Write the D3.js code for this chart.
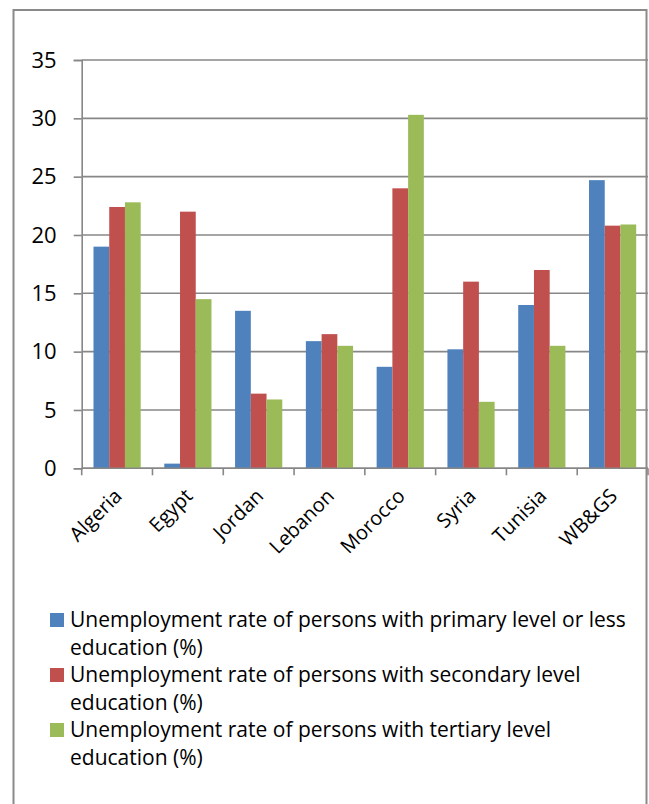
<!DOCTYPE html>
<html>
<head>
<meta charset="utf-8">
<script src="https://cdn.jsdelivr.net/npm/d3@7"></script>
<style>
  body { margin: 0; background: #fff; }
  svg { display: block; }
  text { font-family: "Open Sans", Lato, sans-serif; fill: #000; }
</style>
</head>
<body>
<div id="chart"></div>
<script>
const countries = ["Algeria", "Egypt", "Jordan", "Lebanon", "Morocco", "Syria", "Tunisia", "WB&GS"];
const primary = [19.0, 0.4, 13.5, 10.9, 8.7, 10.2, 14.0, 24.7];
const secondary = [22.4, 22.0, 6.4, 11.5, 24.0, 16.0, 17.0, 20.8];
const tertiary = [22.8, 14.5, 5.9, 10.5, 30.3, 5.7, 10.5, 20.9];
const seriesNames = [
  ["Unemployment rate of persons with primary level or less", "education (%)"],
  ["Unemployment rate of persons with secondary level", "education (%)"],
  ["Unemployment rate of persons with tertiary level", "education (%)"],
];
const colors = ["#4F81BD", "#C0504D", "#9BBB59"];
const yTicks = [0, 5, 10, 15, 20, 25, 30, 35];

const width = 649, height = 804;
const plot = { left: 81.7, right: 648, top: 60, bottom: 468.3 };
const gridColor = "#878787";

const series = [primary, secondary, tertiary];

const svg = d3.select("#chart").append("svg")
  .attr("width", width)
  .attr("height", height);

const y = d3.scaleLinear().domain([0, 35]).range([plot.bottom, plot.top]);
const x0 = d3.scaleBand().domain(countries).range([plot.left, plot.right]);
const x1 = d3.scaleBand().domain([0, 1, 2]).range([0, x0.bandwidth()])
  .paddingInner(0).paddingOuter(0.75);

// gridlines
svg.append("g")
  .selectAll("line")
  .data(yTicks)
  .join("line")
  .attr("x1", plot.left)
  .attr("x2", plot.right)
  .attr("y1", d => y(d))
  .attr("y2", d => y(d))
  .attr("stroke", gridColor)
  .attr("stroke-width", 1.6);

// bars
const groups = svg.append("g")
  .selectAll("g")
  .data(countries)
  .join("g")
  .attr("transform", d => `translate(${x0(d)},0)`);

groups.selectAll("rect")
  .data((d, i) => series.map((s, k) => ({ k, v: s[i] })))
  .join("rect")
  .attr("x", d => x1(d.k))
  .attr("width", x1.bandwidth())
  .attr("y", d => y(d.v))
  .attr("height", d => y(0) - y(d.v))
  .attr("fill", d => colors[d.k]);

// y axis
const yAxis = svg.append("g")
  .attr("transform", `translate(${plot.left},0)`)
  .call(d3.axisLeft(y).tickValues(yTicks).tickSize(8).tickPadding(17));
yAxis.select(".domain").attr("stroke", gridColor).attr("stroke-width", 1.6);
yAxis.selectAll(".tick line").attr("stroke", gridColor).attr("stroke-width", 1.6);
yAxis.selectAll("text").attr("font-size", 22).attr("font-family", "Open Sans");

// x axis baseline and boundary ticks
svg.append("line")
  .attr("x1", plot.left).attr("x2", plot.right)
  .attr("y1", y(0)).attr("y2", y(0))
  .attr("stroke", gridColor).attr("stroke-width", 1.6);

const bounds = countries.map(c => x0(c)).concat([x0.range()[1]]);
svg.append("g")
  .selectAll("line")
  .data(bounds)
  .join("line")
  .attr("x1", d => d).attr("x2", d => d)
  .attr("y1", y(0)).attr("y2", y(0) + 7)
  .attr("stroke", gridColor).attr("stroke-width", 1.6);

// x labels
svg.append("g")
  .selectAll("text")
  .data(countries)
  .join("text")
  .attr("transform", d => `translate(${x0(d) + x0.bandwidth() / 2 + 6},${y(0) + 29}) rotate(-45)`)
  .attr("text-anchor", "end")
  .attr("font-size", 20)
  .text(d => d);

// legend
const legend = svg.append("g").attr("transform", "translate(50,613)");
seriesNames.forEach((lines, k) => {
  const g = legend.append("g").attr("transform", `translate(0,${k * 55})`);
  g.append("rect")
    .attr("width", 14).attr("height", 14)
    .attr("fill", colors[k]);
  lines.forEach((t, j) => {
    g.append("text")
      .attr("x", 20)
      .attr("y", 14 + j * 27.5)
      .attr("font-size", 21)
      .text(t);
  });
});

// outer frame
svg.append("rect")
  .attr("x", 13.5).attr("y", 10)
  .attr("width", 633).attr("height", 800)
  .attr("fill", "none")
  .attr("stroke", "#8a8a8a")
  .attr("stroke-width", 2);
</script>
</body>
</html>
